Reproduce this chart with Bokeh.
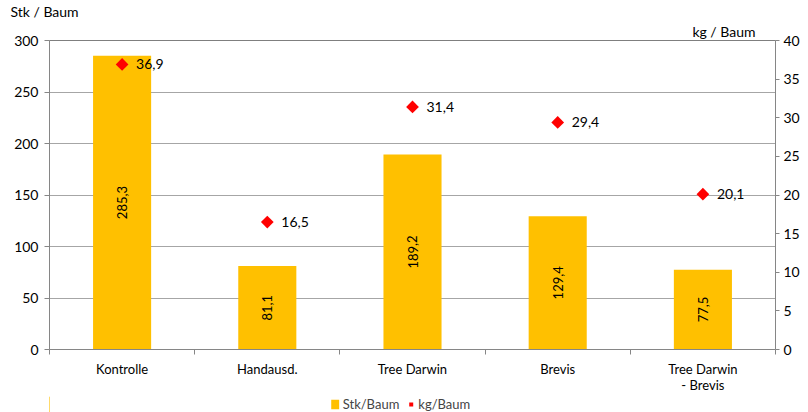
from bokeh.plotting import figure
from bokeh.layouts import column
from bokeh.models import (ColumnDataSource, Range1d, LinearAxis, FixedTicker, Title,
                          Legend, LegendItem, Span)
from bokeh.embed import file_html
from bokeh.resources import INLINE
from bokeh.core.properties import value

categories = ["Kontrolle", "Handausd.", "Tree Darwin", "Brevis", "Tree Darwin\n- Brevis"]
stk_per_tree = [285.3, 81.1, 189.2, 129.4, 77.5]
kg_per_tree = [36.9, 16.5, 31.4, 29.4, 20.1]
left_ticks = [0, 50, 100, 150, 200, 250, 300]
right_ticks = [0, 5, 10, 15, 20, 25, 30, 35, 40]
legend_labels = ["Stk/Baum", "kg/Baum"]

FONT = "Lato"
GOLD = "#FFC000"
RED = "#FF0000"

n = len(categories)
xc = [i + 0.5 for i in range(n)]
bounds = [float(i) for i in range(n + 1)]

src = ColumnDataSource(dict(
    x=xc, stk=stk_per_tree, kg=kg_per_tree,
    stk_mid=[v / 2 for v in stk_per_tree],
    stk_lbl=[f"{v:.1f}".replace(".", ",") for v in stk_per_tree],
    kg_lbl=[f"{v:.1f}".replace(".", ",") for v in kg_per_tree],
))

p = figure(frame_width=726, frame_height=309, output_backend="svg", toolbar_location=None,
           x_range=Range1d(0, n), y_range=Range1d(left_ticks[0], left_ticks[-1]),
           min_border_left=49, min_border_right=25, min_border_top=40, min_border_bottom=0)
p.extra_y_ranges = {"kg": Range1d(right_ticks[0], right_ticks[-1])}
p.outline_line_color = None
p.background_fill_color = "white"
p.border_fill_color = "white"

# axes
p.xaxis.axis_label = None
p.xaxis.ticker = FixedTicker(ticks=xc, minor_ticks=bounds)
p.xaxis.major_label_overrides = {x: c for x, c in zip(xc, categories)}
p.xaxis.major_tick_line_color = None
p.xaxis.major_tick_out = 2
p.xaxis.major_tick_in = 0
p.xaxis.minor_tick_out = 5
p.xaxis.minor_tick_in = 0
p.xaxis.minor_tick_line_color = "#868686"
p.xaxis.axis_line_color = "#868686"
p.xaxis.major_label_standoff = 6
p.xaxis.major_label_text_font = FONT
p.xaxis.major_label_text_font_size = "13px"
p.xaxis.major_label_text_line_height = 1.05
p.xaxis.major_label_text_color = "black"

p.yaxis.ticker = FixedTicker(ticks=left_ticks)
p.yaxis.axis_line_color = "#868686"
p.yaxis.major_tick_line_color = "#868686"
p.yaxis.major_tick_out = 5
p.yaxis.major_tick_in = 0
p.yaxis.minor_tick_line_color = None
p.yaxis.major_label_text_font = FONT
p.yaxis.major_label_text_font_size = "14px"
p.yaxis.major_label_text_color = "black"
p.yaxis.major_label_standoff = 6

ax2 = LinearAxis(y_range_name="kg", ticker=FixedTicker(ticks=right_ticks))
ax2.axis_line_color = "#868686"
ax2.major_tick_line_color = "#868686"
ax2.major_tick_out = 4
ax2.major_tick_in = 0
ax2.minor_tick_line_color = None
ax2.major_label_text_font = FONT
ax2.major_label_text_font_size = "14px"
ax2.major_label_text_color = "black"
ax2.major_label_standoff = 4
p.add_layout(ax2, "right")

p.xgrid.grid_line_color = None
p.ygrid.ticker = FixedTicker(ticks=left_ticks)
p.ygrid.grid_line_color = "#a6a6a6"
p.ygrid.grid_line_width = 1

p.add_layout(Span(location=left_ticks[-1], dimension="width", line_color="black", line_width=1))

p.vbar(x="x", top="stk", width=0.4, bottom=0, source=src, fill_color=GOLD, line_color=None)
p.scatter(x="x", y="kg", source=src, marker="square", angle=0.7854, size=9,
          fill_color=RED, line_color=None, y_range_name="kg")

p.text(x="x", y="stk_mid", text="stk_lbl", source=src, angle=1.5708,
       text_align="center", text_baseline="middle", text_font=value(FONT),
       text_font_size="13px", text_color="black")
p.text(x="x", y="kg", text="kg_lbl", source=src, y_range_name="kg", x_offset=14,
       text_align="left", text_baseline="middle", text_font=value(FONT),
       text_font_size="14px", text_color="black")

# axis titles (horizontal, above the plot)
p.add_layout(Title(text="kg / Baum", align="right", offset=20, standoff=2,
                   text_font=FONT, text_font_size="14px", text_font_style="normal",
                   text_color="black"), "above")
p.add_layout(Title(text="Stk / Baum", align="left", offset=-39, standoff=0,
                   text_font=FONT, text_font_size="14px", text_font_style="normal",
                   text_color="black"), "above")

# separate strip for the legend below the chart
lg = figure(frame_width=800, frame_height=16, output_backend="svg", toolbar_location=None,
            x_range=Range1d(100, 101), y_range=Range1d(100, 101),
            x_axis_type=None, y_axis_type=None,
            min_border_left=0, min_border_right=0, min_border_top=0, min_border_bottom=0)
lg.outline_line_color = None
lg.grid.grid_line_color = None
lg.background_fill_color = "white"
lg.border_fill_color = "white"
r_bar = lg.vbar(x="x", top="stk", width=0.4, bottom=0, source=src, fill_color=GOLD, line_color=None)
r_dot = lg.scatter(x="x", y="kg", source=src, marker="square", angle=0.7854, size=9,
                   fill_color=RED, line_color=None)
legend = Legend(items=[LegendItem(label=legend_labels[0], renderers=[r_bar]),
                       LegendItem(label=legend_labels[1], renderers=[r_dot])],
                orientation="horizontal", location="center", padding=0, margin=0,
                spacing=6, glyph_width=10, glyph_height=12, label_standoff=3,
                label_height=12, label_text_font=FONT, label_text_font_size="13px",
                label_text_line_height=1.0,
                border_line_color=None, background_fill_alpha=0)
lg.add_layout(legend, "center")

layout = column(p, lg, spacing=0)
open("out.html", "w").write(file_html(layout, INLINE))
